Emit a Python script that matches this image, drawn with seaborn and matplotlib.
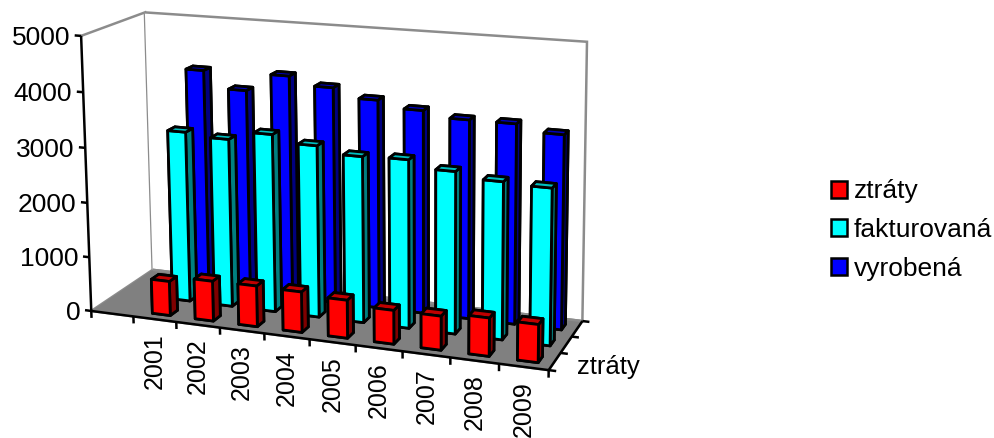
import matplotlib
matplotlib.use("Agg")
import matplotlib.pyplot as plt
import numpy as np
import seaborn as sns
from matplotlib.patches import Rectangle
from mpl_toolkits.mplot3d import proj3d

sns.set_theme(style="white")
plt.rcParams["font.family"] = ["Liberation Sans", "DejaVu Sans"]
plt.rcParams["text.color"] = "black"

# first slot of the category axis is empty in the original
years = ["2001", "2002", "2003", "2004", "2005", "2006", "2007", "2008", "2009"]
series_names = ["ztráty", "fakturovaná", "vyrobená"]
ztraty = [630, 730, 740, 730, 680, 600, 600, 670, 660]
fakturovana = [3150, 3090, 3250, 3120, 3000, 3020, 2890, 2790, 2760]
vyrobena = [4110, 3800, 4130, 3980, 3820, 3700, 3600, 3600, 3480]
yticks = [0, 1000, 2000, 3000, 4000, 5000]

series = [ztraty, fakturovana, vyrobena]
palette = sns.color_palette(["#ff0000", "#00ffff", "#0000ff"])

W, H = 994, 438
N_SLOTS = len(years) + 1
N_ROWS = len(series)
ZMAX = yticks[-1]

fig = plt.figure(figsize=(W / 100, H / 100), dpi=100)
ax = fig.add_axes([0, 0, 1, 1], projection="3d")
ax.set_proj_type("ortho")  # switches off the near-plane masking of lines
ax.set_xlim(0, N_SLOTS)
ax.set_ylim(0, N_ROWS)
ax.set_zlim(0, ZMAX)
ax.apply_aspect()

# camera: fit a projective matrix to where the box corners sit in the picture
box_corners = [(0, 0, 0), (1, 0, 0), (1, 1, 0), (0, 1, 0), (0, 1, 1), (0, 0, 1), (1, 1, 1)]
box_pixels = [(92, 311), (548, 371), (583, 320), (152, 270), (145, 13), (81, 35), (587, 42)]
to_2d = ax.transData.inverted()
A, b = [], []
for (X, Y, Z), (px, py) in zip(box_corners, box_pixels):
    u, v = to_2d.transform((px, H - py))
    A.append([X, Y, Z, 1, 0, 0, 0, 0, -u * X, -u * Y, -u * Z])
    A.append([0, 0, 0, 0, X, Y, Z, 1, -v * X, -v * Y, -v * Z])
    b += [u, v]
p = np.linalg.lstsq(np.array(A), np.array(b), rcond=None)[0]
P = np.array([
    [p[0], p[1], p[2], p[3]],
    [p[4], p[5], p[6], p[7]],
    [-0.3, 1.0, -0.35, 0.5],  # depth only used for sorting faces and picking panes
    [p[8], p[9], p[10], 1.0],
])
M = P @ np.diag([1 / N_SLOTS, 1 / N_ROWS, 1 / ZMAX, 1])
ax.get_proj = lambda: M
ax.computed_zorder = False

bar_w = 0.42
bar_d = 0.36
z = 10
for row in range(N_ROWS - 1, -1, -1):
    base = np.array(palette[row])
    # bottom, top, front, back, left, right
    faces = [base * 0.5, base * 0.75, base, base * 0.5, base * 0.5, base * 0.5]
    for i, value in enumerate(series[row]):
        ax.bar3d(i + 1 + (1 - bar_w) / 2, row + (1 - bar_d) / 2, 0, bar_w, bar_d, value,
                 color=faces, edgecolor="black", linewidth=2.0, shade=False, zorder=z, clip_on=False)
        z += 1

ax.grid(False)
ax.set_xticks([])
ax.set_yticks([])
ax.set_zticks([])
ax.xaxis.set_pane_color("white")
ax.yaxis.set_pane_color("white")
ax.zaxis.set_pane_color("#808080")
for axis in [ax.xaxis, ax.yaxis, ax.zaxis]:
    axis.line.set_color((0, 0, 0, 0))
    axis.pane.set_edgecolor("#8c8c8c")
    axis.pane.set_linewidth(1.8)

# axis lines and tick stubs
line = dict(color="black", linewidth=1.8, zorder=5, solid_capstyle="butt", clip_on=False)
ax.plot([0, 0], [0, 0], [0, ZMAX], **line)
ax.plot([0, N_SLOTS], [0, 0], [0, 0], **line)
ax.plot([N_SLOTS, N_SLOTS], [0, N_ROWS], [0, 0], **line)
for v in yticks:
    ax.plot([-0.15, 0], [0, 0], [v, v], **line)
for i in range(N_SLOTS + 1):
    ax.plot([i, i], [0, 0], [-130, 0], **line)
for r in range(N_ROWS + 1):
    ax.plot([N_SLOTS, N_SLOTS + 0.15], [r, r], [0, 0], **line)


def to_view(x, y, z):
    xs, ys, _ = proj3d.proj_transform(x, y, z, M)
    return xs, ys


for v in yticks:
    ax.annotate(str(v), to_view(0, 0, v), xytext=(-8, -1.5), textcoords="offset points",
                ha="right", va="center", fontsize=19, annotation_clip=False)
for i, year in enumerate(years):
    ax.annotate(year, to_view(i + 1.5, 0, 0), xytext=(0, -10), textcoords="offset points",
                ha="center", va="top", rotation=90, fontsize=18, annotation_clip=False)
ax.annotate(series_names[0], to_view(N_SLOTS, 0.5, 0), xytext=(16, -4), textcoords="offset points",
            ha="left", va="center", fontsize=18.5, annotation_clip=False)

handles = [Rectangle((0, 0), 1, 1, facecolor=c, edgecolor="black", linewidth=1.8) for c in palette]
fig.legend(handles, series_names, loc="center left", bbox_to_anchor=(831 / W, 1 - 230 / H), frameon=False,
           fontsize=19, handlelength=0.6, handleheight=0.6, handletextpad=0.25, labelspacing=0.55,
           borderpad=0, borderaxespad=0)

fig.savefig("out.png", dpi=100)
